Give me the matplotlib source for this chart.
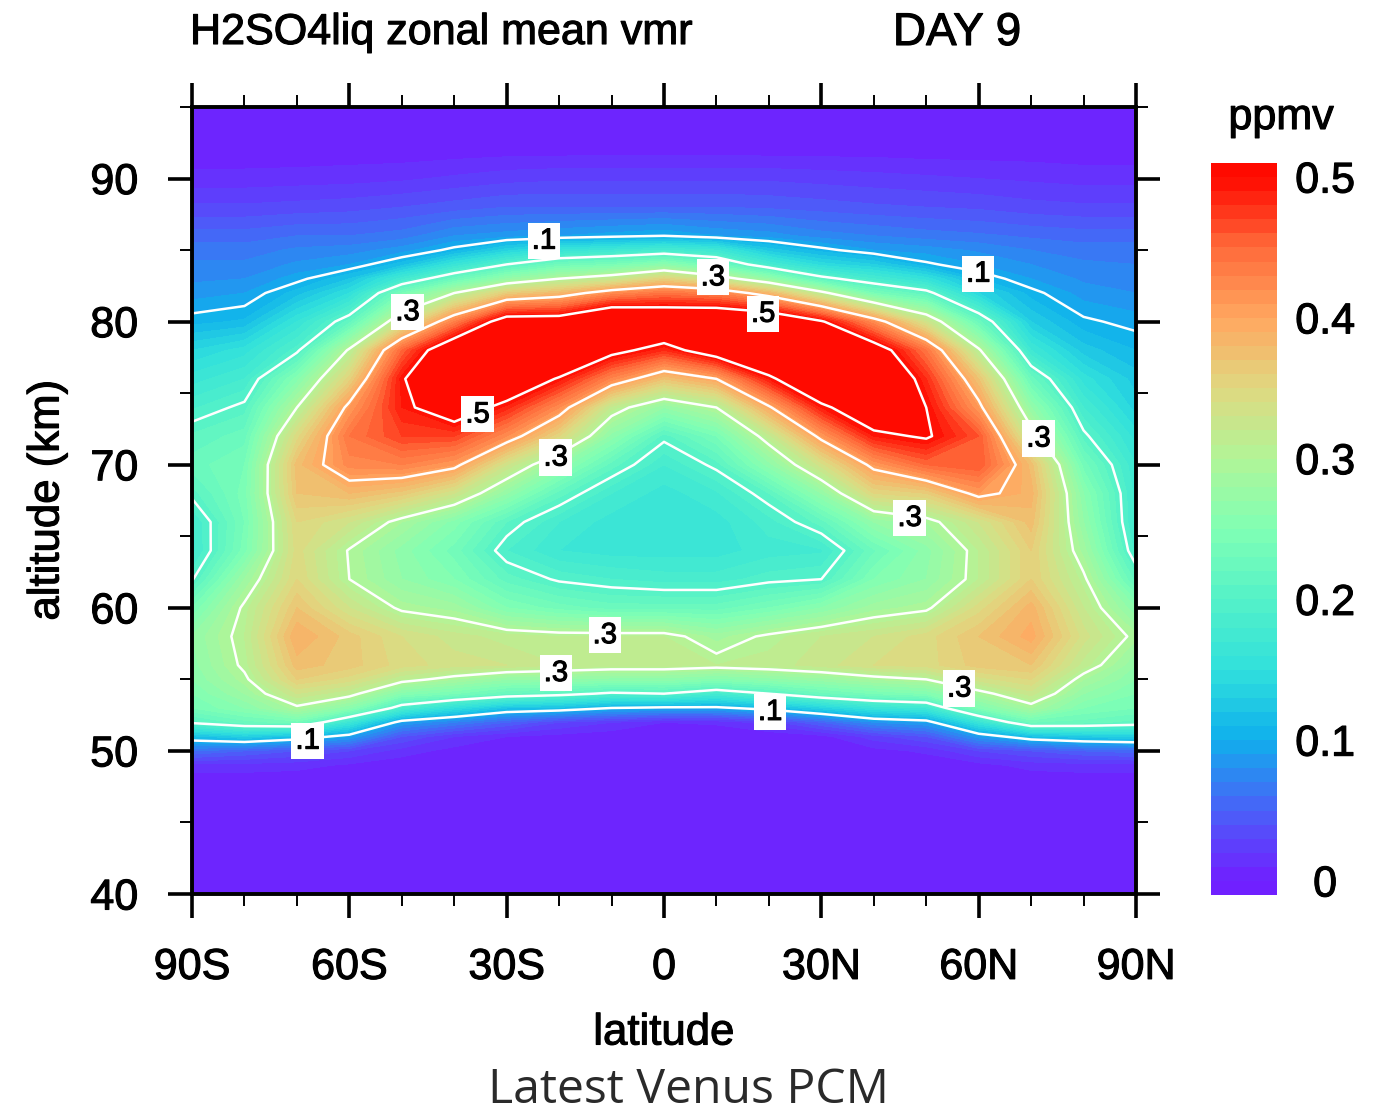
import numpy as np
import matplotlib
matplotlib.use('Agg')
import matplotlib.pyplot as plt
import matplotlib.patheffects as pe
from matplotlib.colors import LinearSegmentedColormap, Normalize
from matplotlib.ticker import MultipleLocator

plt.rcParams['font.family'] = ['Liberation Sans', 'DejaVu Sans']

W, H = 1379, 1107

# data: vmr (ppmv) per latitude, bottom to top
lats = [-90, -80, -70, -60, -50, -40, -30, -20, -10, 0, 10, 20, 30, 40, 50, 60, 70, 80, 90]
alts = [40, 48, 49, 50, 51, 52, 53, 54, 55, 56, 58, 60, 62, 64, 66, 68, 70, 72, 74, 76, 78, 80, 82, 83, 84, 85, 86, 88, 90, 92, 95]

lat_s90 = [0, .004, .016, .06, .115, .205, .24, .25, .26, .265, .27, .24, .198, .175, .178, .205, .225, .212, .188, .165, .14, .106, .085, .078, .072, .065, .055, .032, .014, .002, 0]
lat_s80 = [0, .004, .016, .05, .13, .225, .26, .28, .295, .305, .31, .305, .28, .245, .24, .245, .24, .225, .205, .18, .155, .112, .09, .08, .072, .065, .055, .032, .014, .002, 0]
lat_s70 = [0, .003, .014, .04, .115, .235, .295, .33, .36, .375, .39, .37, .35, .345, .35, .37, .375, .345, .3, .255, .195, .16, .115, .095, .082, .072, .06, .034, .015, .002, 0]
lat_s60 = [0, 0, .008, .03, .09, .165, .26, .31, .345, .365, .365, .33, .3, .298, .33, .38, .425, .44, .41, .355, .305, .215, .15, .12, .09, .075, .06, .036, .016, .003, 0]
lat_s50 = [0, 0, .003, .015, .04, .09, .185, .255, .31, .345, .34, .295, .27, .265, .29, .365, .43, .47, .49, .495, .45, .33, .24, .175, .115, .085, .065, .04, .018, .003, 0]
lat_s40 = [0, 0, 0, .006, .02, .07, .15, .24, .29, .335, .325, .285, .25, .235, .255, .33, .41, .47, .53, .57, .55, .43, .3, .225, .16, .105, .08, .045, .022, .004, 0]
lat_s30 = [0, 0, 0, .003, .01, .05, .12, .22, .27, .33, .315, .25, .215, .19, .21, .27, .33, .42, .485, .55, .6, .53, .36, .27, .2, .135, .085, .05, .026, .005, 0]
lat_s20 = [0, 0, 0, .002, .006, .03, .115, .21, .27, .32, .31, .235, .197, .17, .18, .215, .27, .35, .42, .495, .58, .53, .38, .3, .23, .16, .09, .05, .028, .005, 0]
lat_s10 = [0, 0, 0, 0, .003, .02, .1, .195, .265, .315, .31, .225, .19, .165, .165, .18, .215, .265, .315, .425, .515, .58, .42, .32, .24, .17, .095, .05, .028, .006, 0]
lat_eq = [0, 0, 0, 0, .001, .01, .095, .2, .265, .315, .31, .225, .185, .165, .16, .165, .18, .205, .27, .37, .48, .56, .44, .355, .26, .18, .1, .05, .028, .006, 0]
lat_n10 = [0, 0, 0, 0, .001, .012, .095, .18, .255, .31, .285, .225, .185, .165, .165, .178, .205, .24, .3, .4, .53, .565, .43, .32, .23, .17, .09, .05, .028, .006, 0]
lat_n20 = [0, 0, 0, 0, .002, .025, .11, .2, .265, .315, .305, .24, .195, .175, .185, .21, .265, .315, .395, .49, .57, .56, .38, .27, .18, .125, .085, .048, .028, .005, 0]
lat_n30 = [0, 0, 0, .001, .006, .05, .135, .225, .275, .325, .32, .26, .2, .178, .215, .27, .335, .41, .49, .56, .58, .505, .31, .21, .145, .105, .075, .045, .026, .005, 0]
lat_n40 = [0, 0, .001, .006, .025, .08, .16, .24, .29, .34, .33, .285, .25, .228, .27, .35, .41, .49, .54, .57, .53, .42, .24, .18, .13, .09, .07, .042, .024, .005, 0]
lat_n50 = [0, 0, .002, .012, .04, .09, .17, .25, .3, .345, .345, .295, .27, .265, .29, .36, .45, .505, .5, .48, .44, .33, .21, .155, .103, .085, .065, .04, .022, .004, 0]
lat_n60 = [0, .001, .006, .03, .085, .16, .25, .29, .335, .365, .37, .345, .31, .31, .33, .41, .46, .46, .41, .37, .305, .225, .14, .11, .09, .078, .062, .038, .02, .004, 0]
lat_n70 = [0, .003, .014, .04, .115, .23, .29, .325, .35, .37, .395, .385, .36, .36, .375, .385, .375, .315, .27, .225, .17, .13, .105, .09, .08, .07, .058, .034, .018, .004, 0]
lat_n80 = [0, .004, .016, .05, .125, .225, .25, .27, .29, .315, .335, .32, .305, .285, .27, .26, .235, .205, .18, .155, .125, .103, .085, .078, .072, .065, .055, .032, .016, .003, 0]
lat_n90 = [0, .004, .016, .055, .13, .215, .24, .25, .26, .27, .293, .26, .215, .185, .175, .175, .17, .155, .135, .125, .11, .095, .08, .074, .07, .065, .055, .032, .016, .003, 0]

xtick_labels = ['90S', '60S', '30S', '0', '30N', '60N', '90N']

# label spots on the contours (lat, alt)
spots = [(-22.9, 85.7), (59.9, 83.5), (-67.9, 50.6), (20.2, 52.8),
         (-48.8, 80.7), (9.3, 83.2), (71.1, 71.9), (-20.6, 70.6), (46.9, 66.6),
         (-11.3, 58.0), (-20.6, 55.4), (56.4, 54.7),
         (-35.7, 73.8), (18.9, 80.7)]

vmr = np.column_stack([lat_s90, lat_s80, lat_s70, lat_s60, lat_s50, lat_s40, lat_s30, lat_s20, lat_s10, lat_eq,
                       lat_n10, lat_n20, lat_n30, lat_n40, lat_n50, lat_n60, lat_n70, lat_n80, lat_n90])

# colours taken from the label bar
cmap = LinearSegmentedColormap.from_list('bar', [
    (0.0, '#7020ff'), (0.1, '#4a60f8'), (0.2, '#0fb0ec'), (0.3, '#30e0dc'), (0.4, '#55f2c8'),
    (0.5, '#80ffb4'), (0.6, '#b0f598'), (0.7, '#e0d880'), (0.8, '#ffa860'), (0.9, '#ff6a3a'), (1.0, '#ff0a00')], N=256)
cmap.set_over('#ff0a00')
norm = Normalize(0, 0.5)
levels = np.arange(0, 0.505, 0.01)

fig = plt.figure(figsize=(W / 100, H / 100), dpi=100)
ax = fig.add_axes([192 / W, 1 - 894 / H, 944 / W, 787 / H])

ax.contourf(lats, alts, vmr, levels=levels, cmap=cmap, norm=norm, extend='max')
ax.contour(lats, alts, vmr, levels=[.2, .4], colors='white', linewidths=1.8)
lines = ax.contour(lats, alts, vmr, levels=[.1, .3, .5], colors='white', linewidths=1.8)
labels = ax.clabel(lines, manual=spots, inline=False, fmt=lambda v: ('%.1f' % v)[1:], fontsize=21, colors='black')
for t in labels:
    t.set_rotation(0)
    t.set_y(t.get_position()[1] - 0.15)
    t.set_bbox(dict(fc='white', ec='none', pad=3))
    t.set_zorder(6)

ax.set_xlim(-90, 90)
ax.set_ylim(40, 95)
ax.set_xticks([-90, -60, -30, 0, 30, 60, 90])
ax.set_xticklabels(xtick_labels)
ax.set_yticks([40, 50, 60, 70, 80, 90])
ax.xaxis.set_minor_locator(MultipleLocator(10))
ax.yaxis.set_minor_locator(MultipleLocator(5))
ax.tick_params(which='major', direction='out', top=True, right=True, length=17.3, width=2.6, labelsize=31, pad=21.5)
ax.tick_params(which='minor', direction='out', top=True, right=True, length=8.6, width=1.4)
for s in ax.spines.values():
    s.set_linewidth(2.8)

# label bar
cax = fig.add_axes([1211 / W, 1 - 895 / H, 66 / W, 732 / H])
edges = np.arange(-0.01, 0.515, 0.01)
cax.pcolormesh([0, 1], edges, (edges[:-1, None] + 0.005).clip(0, 0.5), cmap=cmap, norm=norm)
cax.set_xticks([])
cax.yaxis.tick_right()
cax.set_yticks([0, .1, .2, .3, .4, .5])
cax.set_yticklabels(['0', '0.1', '0.2', '0.3', '0.4', '0.5'], ha='center')
cax.tick_params(length=0, labelsize=31, pad=34.6)
for s in cax.spines.values():
    s.set_visible(False)

fig.text(190 / W, 1 - 33 / H, 'H2SO4liq zonal mean vmr', fontsize=31, ha='left', va='center')
fig.text(957 / W, 1 - 33 / H, 'DAY 9', fontsize=33, ha='center', va='center')
fig.text(1281 / W, 1 - 118 / H, 'ppmv', fontsize=31, ha='center', va='center')
fig.text(664 / W, 1 - 1033 / H, 'latitude', fontsize=31.5, ha='center', va='center')
fig.text(47 / W, 1 - 500 / H, 'altitude (km)', fontsize=31.5, rotation=90, ha='center', va='center')

# the plot's fonts look slightly heavier than plain Liberation Sans
for t in fig.findobj(matplotlib.text.Text):
    t.set_path_effects([pe.withStroke(linewidth=0.8, foreground='black')])

fig.text(689 / W, 1 - 1090 / H, 'Latest Venus PCM', fontsize=34.7, family='Open Sans', color='#2a2a2a', ha='center', va='center')

fig.savefig('out.png', dpi=100)
